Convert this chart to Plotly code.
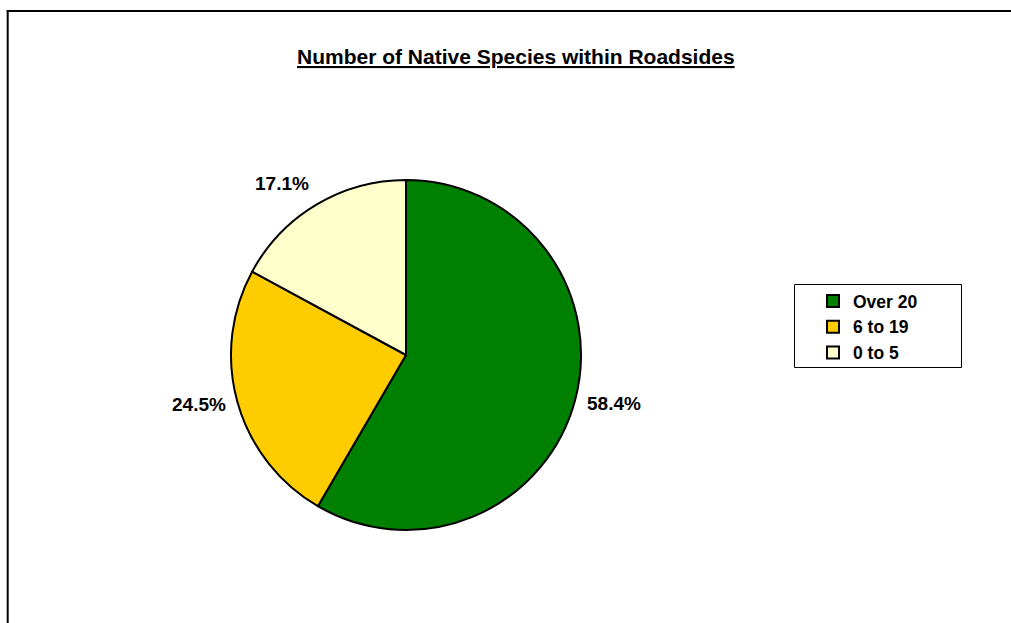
import math
import plotly.graph_objects as go

# Share of roadside sites by number of native species
categories = ["Over 20", "6 to 19", "0 to 5"]
shares = [58.4, 24.5, 17.1]
colors = ["#008000", "#FFCC00", "#FFFFCC"]
title_text = "Number of Native Species within Roadsides"

W, H = 1011, 623
FONT = "Liberation Sans, Arial, sans-serif"

# Pie geometry in pixels (margins are zero so paper == pixels)
cx, cy, r = 406, 355, 175

fig = go.Figure()
fig.add_trace(go.Pie(
    labels=categories,
    values=shares,
    sort=False,
    direction="clockwise",
    rotation=0,
    textinfo="none",
    hoverinfo="label+percent",
    marker=dict(colors=colors, line=dict(color="#000000", width=2)),
    domain=dict(x=[(cx - r) / W, (cx + r) / W], y=[1 - (cy + r) / H, 1 - (cy - r) / H]),
    showlegend=True,
))

# Outside percentage labels placed along each slice's mid-angle
annotations = []
total = sum(shares)
start = 0.0
label_r = 185
for v in shares:
    mid = (start + v / 2) / total * 2 * math.pi
    start += v
    dx, dy = math.sin(mid), -math.cos(mid)
    px, py = cx + label_r * dx, cy + label_r * dy
    annotations.append(dict(
        x=px / W, y=1 - py / H, xref="paper", yref="paper",
        text=f"<b>{v:.1f}%</b>", showarrow=False,
        xanchor="left" if dx > 0 else "right",
        yanchor="middle" if abs(dy) < 0.5 else ("bottom" if dy < 0 else "top"),
        font=dict(family=FONT, size=19, color="#000000"),
    ))

annotations.append(dict(
    x=516 / W, y=1 - 57 / H, xref="paper", yref="paper",
    text=f"<b><u>{title_text}</u></b>", showarrow=False,
    xanchor="center", yanchor="middle",
    font=dict(family=FONT, size=21, color="#000000"),
))

shapes = [
    # chart frame: top and left edges (the others fall outside the page)
    dict(type="line", xref="paper", yref="paper",
         x0=6.7 / W, x1=1.0, y0=1 - 11 / H, y1=1 - 11 / H,
         line=dict(color="#000000", width=2)),
    dict(type="line", xref="paper", yref="paper",
         x0=7.7 / W, x1=7.7 / W, y0=0.0, y1=1 - 10 / H,
         line=dict(color="#000000", width=2)),
    # legend frame
    dict(type="rect", xref="paper", yref="paper",
         x0=794.5 / W, x1=961.5 / W, y0=1 - 367.5 / H, y1=1 - 284.5 / H,
         line=dict(color="#000000", width=1), fillcolor="#FFFFFF", layer="below"),
]

fig.update_layout(
    width=W, height=H,
    margin=dict(l=0, r=0, t=0, b=0),
    paper_bgcolor="#FFFFFF",
    plot_bgcolor="#FFFFFF",
    annotations=annotations,
    shapes=shapes,
    legend=dict(
        x=813 / W, y=1 - 283 / H, xanchor="left", yanchor="top",
        bgcolor="rgba(0,0,0,0)", borderwidth=0,
        font=dict(family=FONT, size=17.5, color="#000000", weight="bold"),
    ),
)

fig.write_html("out.html", config={"displayModeBar": False})
